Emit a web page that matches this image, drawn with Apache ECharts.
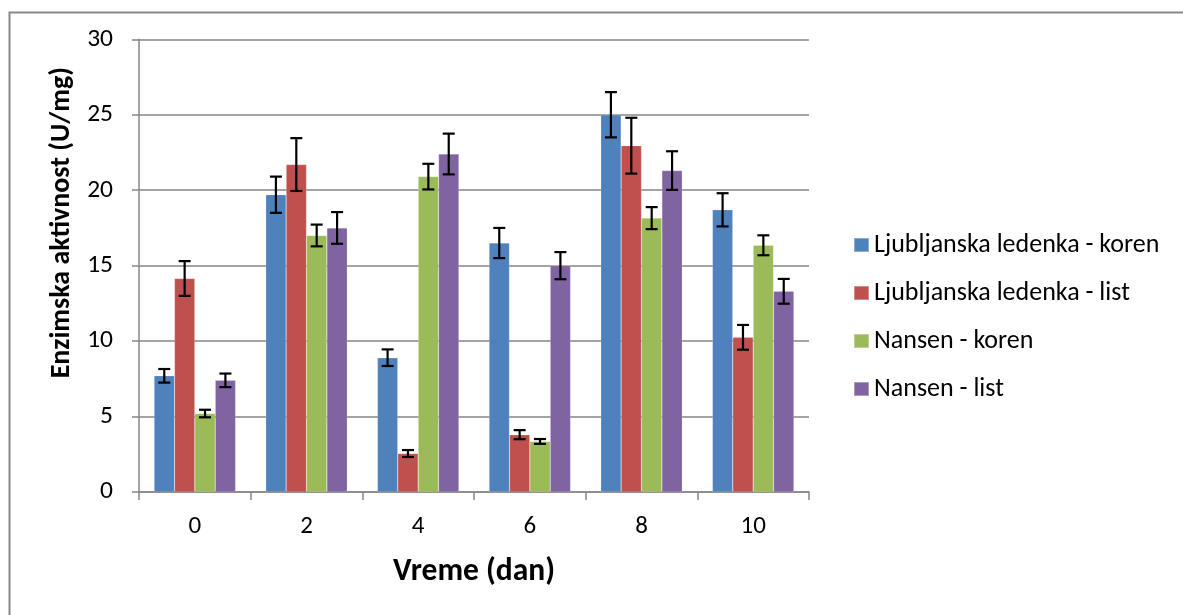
<!DOCTYPE html>
<html>
<head>
<meta charset="utf-8">
<script src="https://cdn.jsdelivr.net/npm/echarts@6/dist/echarts.min.js"></script>
<style>html,body{margin:0;padding:0;background:#fff}#c{width:1183px;height:615px}</style>
</head>
<body>
<div id="c"></div>
<script>
var categories = ['0', '2', '4', '6', '8', '10'];
var seriesNames = ['Ljubljanska ledenka - koren', 'Ljubljanska ledenka - list', 'Nansen - koren', 'Nansen - list'];
var ljKoren = [7.7, 19.7, 8.9, 16.5, 25.0, 18.7];
var ljList = [14.15, 21.7, 2.55, 3.8, 22.95, 10.25];
var naKoren = [5.2, 17.0, 20.9, 3.35, 18.15, 16.35];
var naList = [7.4, 17.5, 22.4, 15.0, 21.3, 13.3];
var ljKorenErr = [0.45, 1.2, 0.55, 1.0, 1.5, 1.1];
var ljListErr = [1.15, 1.75, 0.23, 0.3, 1.85, 0.82];
var naKorenErr = [0.25, 0.72, 0.85, 0.16, 0.73, 0.66];
var naListErr = [0.45, 1.05, 1.35, 0.9, 1.28, 0.82];
var yTicks = [0, 5, 10, 15, 20, 25, 30];
var colors = ['#4F81BD', '#C0504D', '#9BBB59', '#8064A2'];

var values = [ljKoren, ljList, naKoren, naList];
var errs = [ljKorenErr, ljListErr, naKorenErr, naListErr];
var gapFrac = 0.27;

var errData = [];
for (var s = 0; s < 4; s++) {
  for (var i = 0; i < categories.length; i++) {
    errData.push([i, s, values[s][i] - errs[s][i], values[s][i] + errs[s][i]]);
  }
}

var font = 'Carlito, "Liberation Sans Narrow", "Open Sans", sans-serif';

var series = seriesNames.map(function (n, s) {
  return {
    name: n, type: 'bar', data: values[s], barGap: '0%', barCategoryGap: (gapFrac * 100) + '%',
    itemStyle: { color: colors[s], borderColor: 'rgba(255,255,255,0.35)', borderWidth: 0.5 }
  };
});
series.push({
  type: 'custom', name: 'err', data: errData, z: 10,
  encode: { x: 0, y: [2, 3] },
  renderItem: function (params, api) {
    var ci = api.value(0), s = api.value(1);
    var band = api.size([1, 0])[0];
    var bw = band * (1 - gapFrac) / 4;
    var lo = api.coord([ci, api.value(2)]);
    var hi = api.coord([ci, api.value(3)]);
    var x = lo[0] + (s - 1.5) * bw;
    var cap = 6;
    var st = { stroke: '#000', lineWidth: 2.2 };
    return { type: 'group', children: [
      { type: 'line', shape: { x1: x, y1: lo[1], x2: x, y2: hi[1] }, style: st },
      { type: 'line', shape: { x1: x - cap, y1: lo[1], x2: x + cap, y2: lo[1] }, style: st },
      { type: 'line', shape: { x1: x - cap, y1: hi[1], x2: x + cap, y2: hi[1] }, style: st }
    ]};
  }
});

var chart = echarts.init(document.getElementById('c'));
chart.setOption({
  animation: false,
  color: colors,
  graphic: [{ type: 'rect', left: 7, top: 10, shape: { width: 1250, height: 700 }, style: { fill: 'none', stroke: '#888', lineWidth: 2 }, silent: true }],
  grid: { left: 139, right: 374, top: 39.3, bottom: 123 },
  legend: {
    orient: 'vertical', left: 848, top: 227, itemWidth: 15, itemHeight: 14, itemGap: 22,
    data: seriesNames, icon: 'rect',
    textStyle: { fontSize: 26, color: '#000', fontFamily: font }
  },
  xAxis: {
    type: 'category', data: categories,
    name: 'Vreme (dan)', nameLocation: 'middle', nameGap: 64,
    nameTextStyle: { fontSize: 31.5, fontWeight: 'bold', color: '#000', fontFamily: font },
    axisLine: { lineStyle: { color: '#868686', width: 1.5 } },
    axisTick: { show: true, length: 8, lineStyle: { color: '#868686', width: 1.5 } },
    axisLabel: { fontSize: 25, color: '#000', margin: 22, fontFamily: font }
  },
  yAxis: {
    type: 'value', min: 0, max: 30, interval: 5,
    name: 'Enzimska aktivnost (U/mg)', nameLocation: 'middle', nameGap: 62,
    nameTextStyle: { fontSize: 28, fontWeight: 'bold', color: '#000', fontFamily: font, padding: [0, 0, 0, 86] },
    axisLine: { show: true, lineStyle: { color: '#868686', width: 1.5 } },
    axisTick: { show: true, length: 7, lineStyle: { color: '#868686', width: 1.5 } },
    splitLine: { lineStyle: { color: '#868686', width: 1.5 } },
    axisLabel: { fontSize: 25.5, color: '#000', margin: 26, fontFamily: font,
      formatter: function (v) { return yTicks.indexOf(v) >= 0 ? String(v) : ''; } }
  },
  series: series
});
</script>
</body>
</html>
